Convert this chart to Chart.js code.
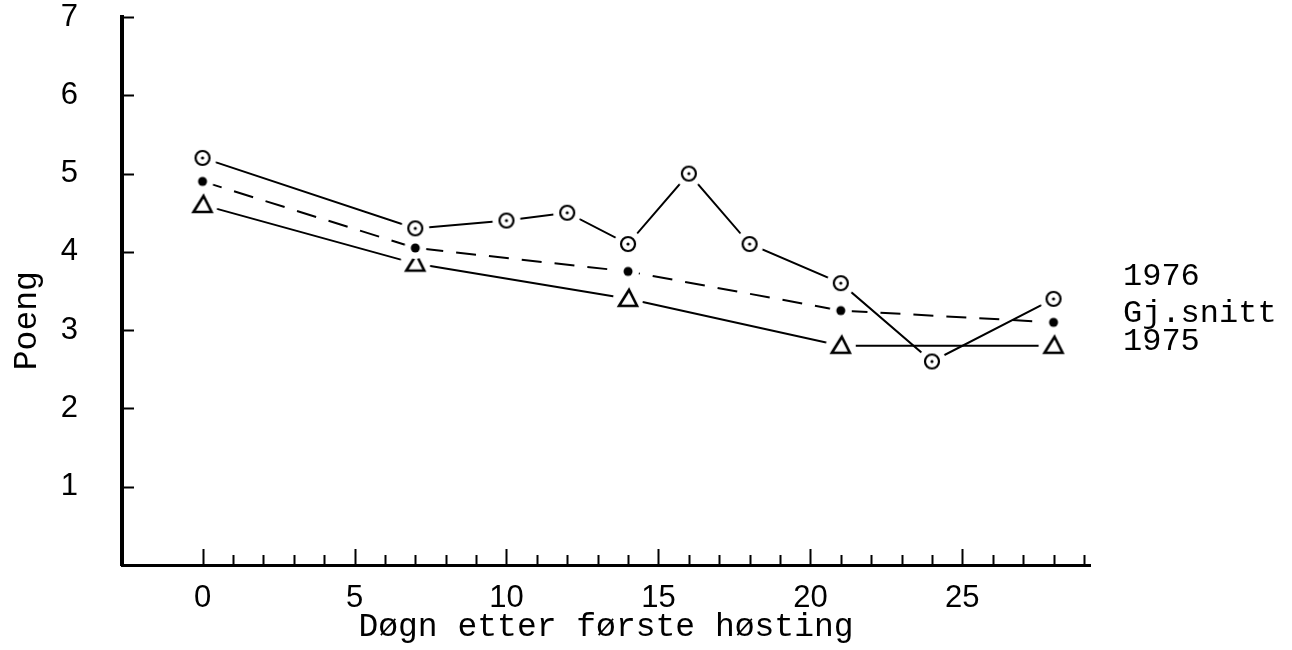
<!DOCTYPE html>
<html lang="no">
<head>
<meta charset="utf-8">
<title>Poeng etter første høsting</title>
<script src="https://cdn.jsdelivr.net/npm/chart.js@4.4.1/dist/chart.umd.min.js"></script>
<style>
  html, body { margin: 0; padding: 0; background: #fff; }
  #wrap { width: 1292px; height: 650px; position: relative; }
</style>
</head>
<body>
<div id="wrap"><canvas id="poengChart"></canvas></div>
<script>
// Døgn etter første høsting / poeng
const days1976 = [0, 7, 10, 12, 14, 16, 18, 21, 24, 28];
const score1976 = [5.2, 4.3, 4.4, 4.5, 4.1, 5.0, 4.1, 3.6, 2.6, 3.4];

const daysAvg = [0, 7, 14, 21, 28];
const scoreAvg = [4.9, 4.05, 3.75, 3.25, 3.1];

const days1975 = [0, 7, 14, 21, 28];
const score1975 = [4.6, 3.85, 3.4, 2.8, 2.8];

const seriesNames = ['1976', 'Gj.snitt', '1975'];
const xLabelStep = 5;
const yTickValues = [1, 2, 3, 4, 5, 6, 7];

const INK = '#000';
const MONO = '"Liberation Mono", "DejaVu Sans Mono", monospace';
const SANS = '"Liberation Sans", "DejaVu Sans", sans-serif';

function toPoints(xs, ys) {
  return xs.map((x, i) => ({ x, y: ys[i] }));
}

// marker images, each with a white ring so the lines stop short of the symbol
function makeMarker(size, draw) {
  const c = document.createElement('canvas');
  c.width = c.height = size;
  const g = c.getContext('2d');
  draw(g, size / 2);
  return c;
}

const ringDot = makeMarker(32, (g, m) => {
  g.fillStyle = '#fff';
  g.beginPath(); g.arc(m, m, 14, 0, Math.PI * 2); g.fill();
  g.strokeStyle = INK;
  g.lineWidth = 2.2;
  g.beginPath(); g.arc(m, m, 7, 0, Math.PI * 2); g.stroke();
  g.fillStyle = INK;
  g.beginPath(); g.arc(m, m, 1.6, 0, Math.PI * 2); g.fill();
});

const solidDot = makeMarker(26, (g, m) => {
  g.fillStyle = '#fff';
  g.beginPath(); g.arc(m, m, 11, 0, Math.PI * 2); g.fill();
  g.fillStyle = INK;
  g.beginPath(); g.arc(m, m, 4.5, 0, Math.PI * 2); g.fill();
});

const openTriangle = makeMarker(34, (g, m) => {
  g.fillStyle = '#fff';
  g.beginPath(); g.arc(m, m, 15, 0, Math.PI * 2); g.fill();
  g.strokeStyle = INK;
  g.lineWidth = 2.6;
  g.lineJoin = 'miter';
  g.beginPath();
  g.moveTo(m + 1, m - 9);
  g.lineTo(m + 9, m + 7);
  g.lineTo(m - 9, m + 7);
  g.closePath();
  g.stroke();
});

// inward tick marks on both axes, and the series names at the right
const axisMarks = {
  id: 'axisMarks',
  afterDraw(chart) {
    const { ctx, chartArea, scales: { x, y } } = chart;
    ctx.save();
    ctx.strokeStyle = INK;
    ctx.lineWidth = 2;
    ctx.beginPath();
    x.ticks.forEach(t => {
      if (t.value < 0) return;
      const px = Math.round(x.getPixelForValue(t.value)) + 0.5;
      const len = t.value % xLabelStep === 0 ? 16 : 10;
      ctx.moveTo(px, chartArea.bottom);
      ctx.lineTo(px, chartArea.bottom - len);
    });
    y.ticks.forEach(t => {
      if (t.value <= 0) return;
      const py = Math.round(y.getPixelForValue(t.value)) + 0.5;
      ctx.moveTo(chartArea.left, py);
      ctx.lineTo(chartArea.left + 12, py);
    });
    ctx.stroke();

    ctx.fillStyle = INK;
    ctx.font = '32px ' + MONO;
    ctx.textAlign = 'left';
    ctx.textBaseline = 'middle';
    const lifts = [-22, -9, -4];
    chart.data.datasets.forEach((ds, i) => {
      const last = ds.data[ds.data.length - 1];
      ctx.fillText(seriesNames[i], chartArea.right + 33, y.getPixelForValue(last.y) + lifts[i]);
    });
    ctx.restore();
  }
};

function noEdgePadding(scale) {
  scale.paddingTop = 0;
  scale.paddingBottom = 0;
  scale.paddingLeft = 0;
  scale.paddingRight = 0;
}

new Chart(document.getElementById('poengChart'), {
  type: 'line',
  data: {
    datasets: [
      {
        label: seriesNames[0],
        data: toPoints(days1976, score1976),
        borderColor: INK,
        borderWidth: 2,
        pointStyle: ringDot,
        pointRadius: 14
      },
      {
        label: seriesNames[1],
        data: toPoints(daysAvg, scoreAvg),
        borderColor: INK,
        borderWidth: 2,
        borderDash: [20, 13],
        pointStyle: solidDot,
        pointRadius: 11
      },
      {
        label: seriesNames[2],
        data: toPoints(days1975, score1975),
        borderColor: INK,
        borderWidth: 2,
        pointStyle: openTriangle,
        pointRadius: 15
      }
    ]
  },
  options: {
    responsive: true,
    maintainAspectRatio: false,
    animation: false,
    layout: { autoPadding: false, padding: { top: 17, right: 202, left: 0, bottom: 0 } },
    plugins: {
      legend: { display: false },
      tooltip: { enabled: false }
    },
    elements: { line: { tension: 0 } },
    scales: {
      x: {
        type: 'linear',
        min: -2.65,
        max: 29.2,
        grid: { display: false, drawTicks: false },
        border: { display: true, color: INK, width: 3 },
        afterFit: scale => { scale.height = 85; noEdgePadding(scale); },
        ticks: {
          stepSize: 1,
          includeBounds: false,
          autoSkip: false,
          maxRotation: 0,
          padding: 15,
          color: INK,
          font: { family: SANS, size: 31 },
          callback: v => (v >= 0 && v % xLabelStep === 0 && v <= 25 ? String(v) : '')
        },
        title: {
          display: true,
          text: 'Døgn etter første høsting',
          color: INK,
          font: { family: MONO, size: 33 },
          padding: { top: 0, bottom: 3 }
        }
      },
      y: {
        min: 0,
        max: 7,
        grid: { display: false, drawTicks: false },
        border: { display: true, color: INK, width: 4 },
        afterFit: scale => { scale.width = 122; noEdgePadding(scale); },
        afterBuildTicks: scale => {
          scale.ticks = [0].concat(yTickValues).map(v => ({ value: v }));
        },
        ticks: {
          padding: 44,
          color: INK,
          font: { family: SANS, size: 31 },
          callback: v => (v === 0 ? '' : String(v))
        },
        title: {
          display: true,
          text: 'Poeng   ',
          color: INK,
          font: { family: MONO, size: 33 },
          padding: { top: 7, bottom: 0 }
        }
      }
    }
  },
  plugins: [axisMarks]
});
</script>
</body>
</html>
